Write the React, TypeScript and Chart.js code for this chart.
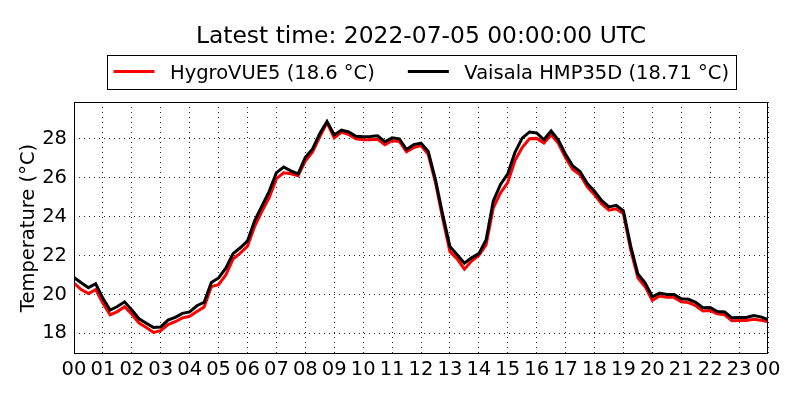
import { useEffect, useRef } from "react";
import { Chart, registerables } from "chart.js";

Chart.register(...registerables);

const titleText = "Latest time: 2022-07-05 00:00:00 UTC";
const seriesNames = ["HygroVUE5 (18.6 °C)", "Vaisala HMP35D (18.71 °C)"];
const seriesColors = ["#ff0000", "#000000"];
const yAxisTitle = "Temperature (°C)";
const hourTicks = [0, 1, 2, 3, 4, 5, 6, 7, 8, 9, 10, 11, 12, 13, 14, 15, 16, 17, 18, 19, 20, 21, 22, 23, 24];
const tempTicks = [18, 20, 22, 24, 26, 28];

// 15 minute samples, 00:00 to 24:00
const hygroVue = [
  20.58, 20.25, 20.05, 20.25, 19.55, 18.95, 19.12, 19.37,
  18.98, 18.53, 18.3, 18.05, 18.14, 18.45, 18.6, 18.8,
  18.88, 19.12, 19.35, 20.4, 20.5, 21.0, 21.82, 22.12,
  22.48, 23.5, 24.27, 24.98, 25.95, 26.25, 26.2, 26.1,
  26.85, 27.32, 28.1, 28.83, 28.05, 28.35, 28.22, 28.0,
  27.95, 27.95, 27.97, 27.7, 27.9, 27.86, 27.33, 27.55,
  27.65, 27.2, 25.75, 23.9, 22.2, 21.83, 21.3, 21.72,
  22.0, 22.55, 24.45, 25.22, 25.75, 26.88, 27.55, 28.0,
  28.02, 27.78, 28.2, 27.77, 27.02, 26.42, 26.15, 25.53,
  25.13, 24.65, 24.33, 24.4, 24.15, 22.3, 20.85, 20.4,
  19.7, 19.92, 19.85, 19.85, 19.62, 19.58, 19.42, 19.15,
  19.17, 19.0, 18.95, 18.65, 18.66, 18.66, 18.73, 18.68,
  18.6,
];

const vaisala = [
  20.87, 20.6, 20.35, 20.55, 19.8, 19.2, 19.38, 19.62,
  19.2, 18.75, 18.52, 18.3, 18.33, 18.68, 18.82, 19.03,
  19.1, 19.42, 19.6, 20.62, 20.85, 21.35, 22.1, 22.4,
  22.75, 23.8, 24.55, 25.3, 26.26, 26.55, 26.35, 26.2,
  27.05, 27.48, 28.27, 28.89, 28.2, 28.45, 28.35, 28.13,
  28.1, 28.12, 28.15, 27.85, 28.05, 28.0, 27.45, 27.7,
  27.78, 27.35, 25.9, 24.1, 22.46, 22.04, 21.6, 21.88,
  22.1, 22.8, 24.8, 25.65, 26.2, 27.3, 28.03, 28.35,
  28.3, 27.95, 28.4, 27.93, 27.2, 26.6, 26.32, 25.7,
  25.3, 24.82, 24.5, 24.58, 24.3, 22.5, 21.05, 20.6,
  19.88, 20.07, 20.0, 20.0, 19.78, 19.75, 19.6, 19.32,
  19.33, 19.12, 19.1, 18.8, 18.82, 18.82, 18.92, 18.85,
  18.71,
];

const toPoints = (values: number[]) => values.map((v, i) => ({ x: i / 4, y: v }));

const FONT = "'DejaVu Sans', sans-serif";

const frameLegendPlugin = {
  id: "frameLegend",
  afterDraw(chart: Chart) {
    const { ctx, chartArea: a } = chart;
    const cx = (a.left + a.right) / 2;
    ctx.save();

    // plot frame
    ctx.strokeStyle = "#000";
    ctx.lineWidth = 1;
    ctx.strokeRect(Math.round(a.left) + 0.5, Math.round(a.top) + 0.5, Math.round(a.right - a.left) - 1, Math.round(a.bottom - a.top) - 1);

    // title
    ctx.fillStyle = "#000";
    ctx.font = `23.4px ${FONT}`;
    ctx.textAlign = "center";
    ctx.textBaseline = "alphabetic";
    ctx.fillText(titleText, cx, 42.5);

    // legend box
    ctx.font = `19.5px ${FONT}`;
    ctx.textAlign = "left";
    const widths = seriesNames.map((n) => ctx.measureText(n).width);
    const padL = 6, handle = 41, gap = 15.5, colGap = 33, padR = 7;
    const total = padL + padR + widths.reduce((s, w) => s + handle + gap + w, 0) + colGap * (seriesNames.length - 1);
    const bx = Math.round(cx - total / 2) + 0.5;
    ctx.strokeStyle = "#000";
    ctx.lineWidth = 1;
    ctx.strokeRect(bx, 55.5, Math.round(total), 34);
    let x = bx + padL;
    seriesNames.forEach((name, i) => {
      ctx.strokeStyle = seriesColors[i];
      ctx.lineWidth = 3;
      ctx.beginPath();
      ctx.moveTo(x, 71.5);
      ctx.lineTo(x + handle, 71.5);
      ctx.stroke();
      ctx.fillStyle = "#000";
      ctx.fillText(name, x + handle + gap, 78.5);
      x += handle + gap + widths[i] + colGap;
    });
    ctx.restore();
  },
};

export default function App() {
  const canvasRef = useRef<HTMLCanvasElement>(null);

  useEffect(() => {
    if (!canvasRef.current) return;
    const chart = new Chart(canvasRef.current, {
      type: "line",
      data: {
        datasets: [
          {
            label: seriesNames[0],
            data: toPoints(hygroVue),
            borderColor: seriesColors[0],
            borderWidth: 3,
            pointRadius: 0,
            tension: 0,
            order: 2,
          },
          {
            label: seriesNames[1],
            data: toPoints(vaisala),
            borderColor: seriesColors[1],
            borderWidth: 3,
            pointRadius: 0,
            tension: 0,
            order: 1,
          },
        ],
      },
      options: {
        animation: false,
        responsive: true,
        maintainAspectRatio: false,
        layout: { padding: { top: 102, right: 32, bottom: 0, left: 0 } },
        plugins: {
          legend: { display: false },
          title: { display: false },
          tooltip: { enabled: false },
        },
        scales: {
          x: {
            type: "linear",
            min: 0,
            max: 24,
            afterBuildTicks: (scale: any) => {
              scale.ticks = hourTicks.map((v) => ({ value: v }));
            },
            afterFit: (scale: any) => {
              scale.height = 46;
            },
            ticks: {
              autoSkip: false,
              maxRotation: 0,
              padding: 4,
              color: "#000",
              font: { family: FONT, size: 19.5 },
              callback: (v: any) => String(Number(v) % 24).padStart(2, "0"),
            },
            grid: { color: "rgba(0,0,0,0.85)", lineWidth: 1, drawTicks: false },
            border: { display: false, dash: [1, 4] },
          },
          y: {
            type: "linear",
            min: 16.94,
            max: 29.89,
            afterBuildTicks: (scale: any) => {
              scale.ticks = tempTicks.map((v) => ({ value: v }));
            },
            afterFit: (scale: any) => {
              scale.width = 74;
            },
            ticks: {
              padding: 7,
              color: "#000",
              font: { family: FONT, size: 19.5 },
            },
            title: {
              display: true,
              text: yAxisTitle,
              color: "#000",
              font: { family: FONT, size: 19.5 },
              padding: { top: 17, bottom: 0 },
            },
            grid: { color: "rgba(0,0,0,0.85)", lineWidth: 1, drawTicks: false },
            border: { display: false, dash: [1, 4] },
          },
        },
      },
      plugins: [frameLegendPlugin],
    });
    return () => chart.destroy();
  }, []);

  return (
    <div style={{ position: "absolute", left: 0, top: 0, width: 800, height: 400, background: "#fff" }}>
      <canvas ref={canvasRef} />
    </div>
  );
}
